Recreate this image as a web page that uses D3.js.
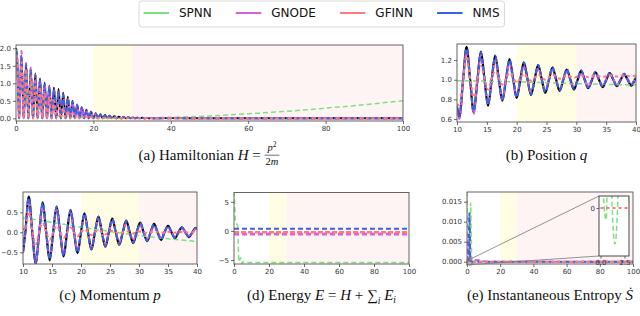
<!DOCTYPE html>
<html><head><meta charset="utf-8">
<script src="https://cdn.jsdelivr.net/npm/d3@7"></script>
<style>body{margin:0;background:#fff}</style>
</head><body><svg id="c" width="640" height="316"></svg>
<script>
// ---------------- DATA ----------------
const legendLabels = ['SPNN', 'GNODE', 'GFINN', 'NMS'];

// (a) Hamiltonian, t grid (peaks / zeros)
const tA = [0, 0.2, 0.8, 1.4, 2.0, 2.6, 3.2, 3.8, 4.4, 5.0, 5.6, 6.2, 6.8, 7.4, 8.0, 8.6, 9.2, 9.8, 10.4, 11.0, 11.6, 12.2, 12.8, 13.4, 14.0, 14.6, 15.2, 15.8, 16.4, 17.0, 17.6, 18.2, 18.8, 19.4, 20.0, 20.6, 21.2, 21.8, 22.4, 23.0, 23.6, 24.2, 24.8, 25.4, 26.0, 26.6, 27.2, 27.8, 28.4, 29.0, 29.6, 30.2, 30.8, 31.4, 32.0, 32.6, 33.2, 33.8, 34.4, 35.0, 35.6, 38, 45, 100];
const hGT = [1.95, 1.98,0, 1.80,0, 1.58,0, 1.42,0, 1.28,0, 1.14,0, 1.02,0, 0.93,0, 0.88,0, 0.84,0, 0.73,0, 0.62,0, 0.50,0, 0.40,0, 0.32,0, 0.25,0, 0.19,0, 0.15,0, 0.12,0, 0.095,0, 0.075,0, 0.062,0, 0.05,0, 0.04,0, 0.032,0, 0.026,0, 0.02,0, 0.016,0, 0.012,0, 0.01,0, 0.004, 0.002, 0.001];
const hNMS = [1.88, 1.9,0, 1.75,0, 1.52,0, 1.36,0, 1.22,0, 1.08,0, 0.97,0, 0.88,0, 0.82,0, 0.76,0, 0.67,0, 0.57,0, 0.47,0, 0.38,0, 0.30,0, 0.23,0, 0.18,0, 0.14,0, 0.11,0, 0.088,0, 0.07,0, 0.058,0, 0.047,0, 0.038,0, 0.03,0, 0.024,0, 0.019,0, 0.015,0, 0.011,0, 0.009,0, 0.004, 0.002, 0.001];
const hGNODE = [1.7, 1.85,0, 1.92,0, 1.55,0, 1.45,0, 1.25,0, 1.1,0, 1.0,0, 0.9,0, 0.84,0, 0.78,0, 0.68,0, 0.58,0, 0.48,0, 0.38,0, 0.3,0, 0.23,0, 0.17,0, 0.13,0, 0.1,0, 0.08,0, 0.063,0, 0.05,0, 0.04,0, 0.032,0, 0.025,0, 0.02,0, 0.016,0, 0.012,0, 0.01,0, 0.008,0, 0.003, 0.001, 0.0];
const hGFINN = [1.75, 1.8,0, 1.6,0, 1.4,0, 1.22,0, 1.05,0, 0.9,0, 0.76,0, 0.62,0, 0.5,0, 0.4,0, 0.3,0, 0.22,0, 0.15,0, 0.1,0, 0.07,0, 0.05,0, 0.035,0, 0.025,0, 0.018,0, 0.013,0, 0.01,0, 0.008,0, 0.006,0, 0.005,0, 0.004,0, 0.003,0, 0.003,0, 0.002,0, 0.002,0, 0.002,0, 0.001, 0.001, 0.001];
const tAg = [0, 0.2, 0.8, 1.4, 2.0, 2.6, 3.2, 3.8, 4.4, 5.0, 5.6, 6.2, 6.8, 7.4, 8.0, 8.6, 9.5, 12, 16, 20, 24, 26, 28, 30, 34, 40, 50, 60, 70, 80, 90, 100];
const hSPNN = [1.9, 1.95, 0.05, 1.65, 0.05, 1.4, 0.05, 1.15, 0.05, 0.9, 0.06, 0.65, 0.06, 0.42, 0.06, 0.25, 0.08, 0.065, 0.04, 0.02, 0.003, 0.0, 0.002, 0.005, 0.013, 0.027, 0.065, 0.13, 0.2, 0.29, 0.39, 0.5];

// (b) position q and (c) momentum p, t grid
const tQ = [10.0, 10.4, 11.0, 11.6, 12.2, 12.8, 13.4, 14.0, 14.6, 15.2, 15.8, 16.4, 17.0, 17.6, 18.2, 18.8, 19.4, 20.0, 20.6, 21.2, 21.8, 22.4, 23.0, 23.6, 24.2, 24.8, 25.4, 26.0, 26.6, 27.2, 27.8, 28.4, 29.0, 29.6, 30.2, 30.8, 31.4, 32.0, 32.6, 33.2, 33.8, 34.4, 35.0, 35.6, 36.2, 36.8, 37.4, 38.0, 38.6, 39.2, 39.8, 40.0];
const qGT = [0.72, 0.62, 0.98, 1.335, 1.0, 0.668, 0.98, 1.286, 1.01, 0.735, 0.99, 1.245, 1.01, 0.786, 1.0, 1.21, 1.01, 0.814, 0.995, 1.176, 1.01, 0.845, 1.0, 1.148, 1.005, 0.866, 0.995, 1.124, 1.005, 0.886, 0.995, 1.103, 1.0, 0.90, 0.995, 1.09, 1.0, 0.914, 0.995, 1.076, 1.0, 0.924, 0.995, 1.066, 1.0, 0.934, 0.995, 1.055, 1.0, 0.94, 0.998, 1.02];
const qNMS = [0.73, 0.63, 0.98, 1.32, 1.0, 0.68, 0.99, 1.28, 1.01, 0.745, 0.995, 1.24, 1.01, 0.79, 1.0, 1.205, 1.01, 0.82, 1.0, 1.175, 1.01, 0.85, 1.0, 1.15, 1.005, 0.872, 1.0, 1.128, 1.005, 0.892, 1.0, 1.108, 1.002, 0.907, 1.0, 1.095, 1.002, 0.92, 1.0, 1.082, 1.002, 0.93, 1.0, 1.072, 1.002, 0.94, 1.0, 1.062, 1.002, 0.947, 1.003, 1.02];
const qGNODE = [0.70, 0.60, 0.97, 1.30, 1.0, 0.65, 0.98, 1.25, 1.0, 0.75, 0.99, 1.2, 1.0, 0.80, 1.0, 1.17, 1.0, 0.84, 1.0, 1.14, 1.0, 0.87, 1.0, 1.12, 1.0, 0.89, 1.0, 1.1, 1.0, 0.905, 1.0, 1.085, 1.0, 0.92, 1.0, 1.075, 1.0, 0.93, 1.0, 1.065, 1.0, 0.94, 1.0, 1.055, 1.0, 0.948, 1.0, 1.048, 1.0, 0.953, 1.0, 1.01];
const qGFINN = [0.75, 0.74, 0.98, 1.24, 1.02, 0.82, 1.0, 1.14, 1.02, 0.90, 1.01, 1.09, 1.02, 0.95, 1.01, 1.07, 1.02, 0.97, 1.015, 1.06, 1.02, 0.99, 1.02, 1.055, 1.025, 1.0, 1.025, 1.05, 1.03, 1.01, 1.03, 1.048, 1.032, 1.02, 1.033, 1.046, 1.035, 1.025, 1.035, 1.045, 1.036, 1.028, 1.037, 1.045, 1.038, 1.032, 1.038, 1.045, 1.04, 1.035, 1.04, 1.042];
const tQg = [10, 20, 30, 40];
const qSPNN = [0.99, 0.978, 0.96, 0.945];

const pGT = [-0.5, 0, 0.89, 0, -0.78, 0, 0.75, 0, -0.70, 0, 0.64, 0, -0.60, 0, 0.56, 0, -0.52, 0, 0.475, 0, -0.43, 0, 0.39, 0, -0.36, 0, 0.34, 0, -0.31, 0, 0.29, 0, -0.27, 0, 0.24, 0, -0.22, 0, 0.21, 0, -0.19, 0, 0.16, 0, -0.15, 0, 0.125, 0, -0.12, 0, 0.11, 0.1];
const pNMS = [-0.48, 0, 0.87, 0, -0.77, 0, 0.74, 0, -0.68, 0, 0.63, 0, -0.59, 0, 0.55, 0, -0.51, 0, 0.47, 0, -0.42, 0, 0.385, 0, -0.355, 0, 0.335, 0, -0.305, 0, 0.285, 0, -0.265, 0, 0.235, 0, -0.215, 0, 0.205, 0, -0.185, 0, 0.158, 0, -0.148, 0, 0.123, 0, -0.118, 0, 0.108, 0.1];
const pGNODE = [-0.52, 0, 0.82, 0, -0.74, 0, 0.68, 0, -0.62, 0, 0.57, 0, -0.53, 0, 0.49, 0, -0.45, 0, 0.41, 0, -0.37, 0, 0.33, 0, -0.3, 0, 0.27, 0, -0.25, 0, 0.22, 0, -0.2, 0, 0.18, 0, -0.165, 0, 0.15, 0, -0.135, 0, 0.12, 0, -0.11, 0, 0.1, 0, -0.09, 0, 0.08, 0.07];
const pGFINN = [0.1, 0.05, 0.5, 0.05, -0.3, 0.02, 0.24, 0.01, -0.19, 0.01, 0.16, 0.0, -0.14, 0.0, 0.12, 0.0, -0.1, 0.0, 0.08, 0, -0.07, 0, 0.06, 0, -0.05, 0, 0.04, 0, -0.035, 0, 0.03, 0, -0.025, 0, 0.02, 0, -0.02, 0, 0.015, 0, -0.015, 0, 0.012, 0, -0.01, 0, 0.01, 0, -0.008, 0, 0.008, 0.006];
const tPg = [10, 15, 20, 25, 30, 35, 40];
const pSPNN = [0.36, 0.25, 0.13, 0.02, -0.08, -0.16, -0.23];

// (d) Energy
const tE = [0, 100];
const eNMS = [0.38, 0.38];
const eGNODE = [-0.55, -0.55];
const eGFINN = [-0.22, -0.22];
const tEg = [0, 0.4, 0.8, 1.2, 1.6, 2.0, 2.4, 2.8, 3.2, 3.8, 4.4, 5.0, 6.0, 100];
const eSPNN = [6.8, 4.5, 2.0, 1.5, 1.2, 0.9, -2.0, -5.3, -5.0, -4.6, -5.6, -5.3, -5.45, -5.45];

// (e) Instantaneous entropy
const tSg = [0, 0.3, 0.6, 0.9, 1.2, 1.5, 1.8, 2.2, 2.6, 3.0, 3.5, 4.5, 6, 100];
const sSPNN = [0.0175, 0.0002, -0.0002, 0.0025, 0.0001, -0.0006, 0.0001, 0.0147, 0.006, 0.0001, -0.0004, 0.0001, 0.0, 0.0];
const tSb = [0, 1.0, 1.4, 1.7, 2.0, 2.5, 4, 100];
const sNMS = [0, 0.0003, 0.0121, 0.008, 0.0005, 0, 0, 0];
const tSm = [0, 0.4, 0.8, 1.2, 1.6, 2.5, 4, 6, 9, 12, 100];
const sGNODE = [0, 0.004, 0.0068, 0.005, 0.0012, 0.0007, 0.0005, 0.0004, 0.0002, 0, 0];
const tS0 = [0, 100];
const sGFINN = [0, 0];

// ticks
const ticksX100 = [0, 20, 40, 60, 80, 100];
const ticksX40 = [10, 15, 20, 25, 30, 35, 40];
const ticksYa = [0, 0.5, 1.0, 1.5, 2.0];
const ticksYb = [0.6, 0.8, 1.0, 1.2];
const ticksYc = [-0.5, 0, 0.5];
const ticksYd = [-5, 0, 5];
const ticksYe = [0, 0.005, 0.010, 0.015];
const ticksInX = [0, 2.5];
const ticksInY = [0];
const bandYellow = [20, 30];
const bandPink = [30, 100];

// ---------------- STYLE ----------------
const ST = {
  gt:    {c: '#000000', w: 2,   d: null},
  spnn:  {c: '#7fe07f', w: 1.5, d: '5,3'},
  gnode: {c: '#dd5edb', w: 2,   d: '5,3'},
  nms:   {c: '#3b63e0', w: 2,   d: '5,3'},
  gfinn: {c: '#ff7a7a', w: 2,   d: '3,3'}
};
const YEL = '#fffde3', PNK = '#fff4f4';
const SANS = '"DejaVu Sans", sans-serif';
const SERIF = '"Liberation Serif", "Times New Roman", "DejaVu Serif", serif';
const CAP = 15;

const svg = d3.select('#c');
const defs = svg.append('defs');

function styleAxis(sel) {
  sel.select('.domain').remove();
  sel.selectAll('.tick line').attr('stroke', '#444').attr('stroke-width', 0.8);
  sel.selectAll('.tick text').attr('font-family', SANS).attr('font-size', 7).attr('fill', '#333');
}

let clipN = 0;
function panel(c) {
  const x = d3.scaleLinear().domain(c.xd).range([c.x0, c.x1]);
  const y = d3.scaleLinear().domain(c.yd).range([c.y1, c.y0]);
  const g = svg.append('g');
  const id = 'clip' + (clipN++);
  defs.append('clipPath').attr('id', id).append('rect')
    .attr('x', c.x0).attr('y', c.y0).attr('width', c.x1 - c.x0).attr('height', c.y1 - c.y0);
  g.append('rect').attr('x', c.x0).attr('y', c.y0).attr('width', c.x1 - c.x0).attr('height', c.y1 - c.y0).attr('fill', '#fff');
  const xmax = c.xd[1];
  g.append('rect').attr('x', x(bandYellow[0])).attr('y', c.y0).attr('width', x(bandYellow[1]) - x(bandYellow[0])).attr('height', c.y1 - c.y0).attr('fill', YEL);
  g.append('rect').attr('x', x(bandPink[0])).attr('y', c.y0).attr('width', x(Math.min(bandPink[1], xmax)) - x(bandPink[0])).attr('height', c.y1 - c.y0).attr('fill', PNK);
  const plot = g.append('g').attr('clip-path', `url(#${id})`);
  const over = svg.append('g');
  over.append('rect').attr('x', c.x0).attr('y', c.y0).attr('width', c.x1 - c.x0).attr('height', c.y1 - c.y0)
    .attr('fill', 'none').attr('stroke', '#555').attr('stroke-width', 0.9);
  over.append('g').attr('transform', `translate(0,${c.y1})`)
    .call(d3.axisBottom(x).tickValues(c.xt).tickSize(3).tickPadding(2).tickFormat(c.fx)).call(styleAxis);
  over.append('g').attr('transform', `translate(${c.x0},0)`)
    .call(d3.axisLeft(y).tickValues(c.yt).tickSize(3).tickPadding(2).tickFormat(c.fy)).call(styleAxis);
  return {x, y, plot, over, c};
}

function addLine(P, target, ts, vs, st, wOverride) {
  const pts = d3.zip(ts, vs);
  target.append('path').datum(pts)
    .attr('fill', 'none').attr('stroke', st.c).attr('stroke-width', wOverride || st.w)
    .attr('stroke-dasharray', st.d)
    .attr('d', d3.line().x(d => P.x(d[0])).y(d => P.y(d[1])).curve(d3.curveMonotoneX));
}

function run(g, parts, x, y, fs) {
  let cx = x;
  parts.forEach(p => {
    const t = g.append('text').attr('x', cx).attr('y', y + (p.dy || 0))
      .attr('font-size', p.s || fs).attr('font-style', p.i ? 'italic' : 'normal')
      .style('white-space', 'pre').text(p.t);
    cx += t.node().getComputedTextLength();
  });
  return cx - x;
}

function caption(cx, base, parts) {
  const g = svg.append('g').attr('font-family', SERIF).attr('fill', '#111');
  let xp = 0;
  parts.forEach(p => {
    if (p.frac) {
      const gn = g.append('g'), gd = g.append('g');
      const nw = run(gn, p.frac.num, xp, base - 9, 10.5);
      const dw = run(gd, p.frac.den, xp, base + 5, 10.5);
      const w = Math.max(nw, dw) + 2;
      gn.attr('transform', `translate(${(w - nw) / 2},0)`);
      gd.attr('transform', `translate(${(w - dw) / 2},0)`);
      g.append('line').attr('x1', xp).attr('x2', xp + w).attr('y1', base - 4.8).attr('y2', base - 4.8)
        .attr('stroke', '#111').attr('stroke-width', 0.6);
      xp += w + 1;
    } else {
      xp += run(g, [p], xp, base, CAP);
    }
  });
  g.attr('transform', `translate(${cx - xp / 2},0)`);
}

// ---------------- LEGEND ----------------
(function legend() {
  const g = svg.append('g');
  const box = g.append('rect').attr('x', 139).attr('y', 1).attr('width', 364).attr('height', 26)
    .attr('rx', 3).attr('fill', '#fff').attr('stroke', '#d4d4d4').attr('stroke-width', 0.9);
  const keys = ['spnn', 'gnode', 'gfinn', 'nms'];
  let xp = 143.5;
  legendLabels.forEach((lab, i) => {
    g.append('line').attr('x1', xp).attr('x2', xp + 25.5).attr('y1', 13).attr('y2', 13)
      .attr('stroke', ST[keys[i]].c).attr('stroke-width', 2);
    const t = g.append('text').attr('x', xp + 35.5).attr('y', 17.3).attr('font-family', SANS)
      .attr('font-size', 12).attr('fill', '#111').text(lab);
    xp += 35.5 + t.node().getComputedTextLength() + 24;
  });
  box.attr('width', xp - 24 + 5 - 139);
})();

const f1 = d3.format('.1f'), fd = d3.format('d'), f3 = d3.format('.3f');

// ---------------- (a) ----------------
const A = panel({x0: 16, x1: 403, y0: 45, y1: 121, xd: [0, 100], yd: [-0.077, 2.094], xt: ticksX100, yt: ticksYa, fx: fd, fy: f1});
addLine(A, A.plot, tA, hGT, ST.gt, 1.8);
addLine(A, A.plot, tAg, hSPNN, ST.spnn);
addLine(A, A.plot, tA, hGNODE, ST.gnode);
addLine(A, A.plot, tA, hNMS, ST.nms);
addLine(A, A.plot, tA, hGFINN, ST.gfinn);
caption(209.5, 160, [{t: '(a) Hamiltonian '}, {t: 'H', i: 1}, {t: ' = '},
  {frac: {num: [{t: 'p', i: 1}, {t: '2', s: 7.5, dy: -4}], den: [{t: '2'}, {t: 'm', i: 1}]}}]);

// ---------------- (b) ----------------
const B = panel({x0: 457, x1: 636, y0: 44, y1: 122, xd: [10, 40], yd: [0.57, 1.363], xt: ticksX40, yt: ticksYb, fx: fd, fy: f1});
addLine(B, B.plot, tQ, qGT, ST.gt, 2.2);
addLine(B, B.plot, tQg, qSPNN, ST.spnn);
addLine(B, B.plot, tQ, qGNODE, ST.gnode);
addLine(B, B.plot, tQ, qNMS, ST.nms);
addLine(B, B.plot, tQ, qGFINN, ST.gfinn);
caption(546.5, 160, [{t: '(b) Position '}, {t: 'q', i: 1}]);

// ---------------- (c) ----------------
const C = panel({x0: 23, x1: 197, y0: 192, y1: 264, xd: [10, 40], yd: [-0.7925, 1.0075], xt: ticksX40, yt: ticksYc, fx: fd, fy: f1});
addLine(C, C.plot, tQ, pGT, ST.gt, 2.2);
addLine(C, C.plot, tPg, pSPNN, ST.spnn);
addLine(C, C.plot, tQ, pGNODE, ST.gnode);
addLine(C, C.plot, tQ, pNMS, ST.nms);
addLine(C, C.plot, tQ, pGFINN, ST.gfinn);
caption(110, 300, [{t: '(c) Momentum '}, {t: 'p', i: 1}]);

// ---------------- (d) ----------------
const D = panel({x0: 234, x1: 409, y0: 192.5, y1: 264, xd: [0, 100], yd: [-5.69, 6.6], xt: ticksX100, yt: ticksYd, fx: fd, fy: fd});
addLine(D, D.plot, tEg, eSPNN, ST.spnn);
addLine(D, D.plot, tE, eGNODE, ST.gnode, 2.6);
addLine(D, D.plot, tE, eNMS, ST.nms);
addLine(D, D.plot, tE, eGFINN, {c: ST.gfinn.c, w: 2.6, d: '5,2'});
caption(321.5, 300, [{t: '(d) Energy '}, {t: 'E', i: 1}, {t: ' = '}, {t: 'H', i: 1}, {t: ' + '},
  {t: '\u2211'}, {t: 'i', i: 1, s: 9.5, dy: 4}, {t: ' '}, {t: 'E', i: 1}, {t: 'i', i: 1, s: 9.5, dy: 3}]);

// ---------------- (e) ----------------
const E = panel({x0: 467, x1: 633, y0: 192, y1: 264, xd: [0, 100], yd: [-0.000575, 0.017425], xt: ticksX100, yt: ticksYe, fx: fd, fy: f3});
addLine(E, E.plot, tSg, sSPNN, ST.spnn);
addLine(E, E.plot, tSm, sGNODE, ST.gnode);
addLine(E, E.plot, tSb, sNMS, ST.nms);
addLine(E, E.plot, tS0, sGFINN, ST.gfinn);

// inset
(function inset() {
  const ic = {x0: 599, x1: 629, y0: 196, y1: 256, xd: [-0.156, 2.97], yd: [-0.0008, 0.0002]};
  const ix = d3.scaleLinear().domain(ic.xd).range([ic.x0, ic.x1]);
  const iy = d3.scaleLinear().domain(ic.yd).range([ic.y1, ic.y0]);
  const rx0 = E.x(ic.xd[0]), rx1 = E.x(ic.xd[1]), ry0 = E.y(ic.yd[1]), ry1 = E.y(ic.yd[0]);
  const og = svg.append('g').attr('stroke', '#777').attr('stroke-width', 0.8).attr('fill', 'none');
  og.append('rect').attr('x', rx0).attr('y', ry0).attr('width', rx1 - rx0).attr('height', ry1 - ry0);
  og.append('line').attr('x1', rx0).attr('y1', ry0).attr('x2', ic.x0).attr('y2', ic.y0);
  og.append('line').attr('x1', rx0).attr('y1', ry1).attr('x2', ic.x0).attr('y2', ic.y1);
  const id = 'clipInset';
  defs.append('clipPath').attr('id', id).append('rect')
    .attr('x', ic.x0).attr('y', ic.y0).attr('width', ic.x1 - ic.x0).attr('height', ic.y1 - ic.y0);
  const g = svg.append('g');
  g.append('rect').attr('x', ic.x0).attr('y', ic.y0).attr('width', ic.x1 - ic.x0).attr('height', ic.y1 - ic.y0).attr('fill', '#fff');
  const P = {x: ix, y: iy};
  const pl = g.append('g').attr('clip-path', `url(#${id})`);
  addLine(P, pl, tSg, sSPNN, ST.spnn);
  addLine(P, pl, tS0, sGFINN, ST.gfinn);
  g.append('rect').attr('x', ic.x0).attr('y', ic.y0).attr('width', ic.x1 - ic.x0).attr('height', ic.y1 - ic.y0)
    .attr('fill', 'none').attr('stroke', '#333').attr('stroke-width', 0.9);
  g.append('g').attr('transform', `translate(0,${ic.y1})`)
    .call(d3.axisBottom(ix).tickValues(ticksInX).tickSize(2.5).tickPadding(1.5).tickFormat(f1)).call(styleAxis);
  g.append('g').attr('transform', `translate(${ic.x0},0)`)
    .call(d3.axisLeft(iy).tickValues(ticksInY).tickSize(2.5).tickPadding(1.5).tickFormat(fd)).call(styleAxis);
})();
caption(550, 300, [{t: '(e) Instantaneous Entropy '}, {t: '\u1E60', i: 1}]);
</script></body></html>
